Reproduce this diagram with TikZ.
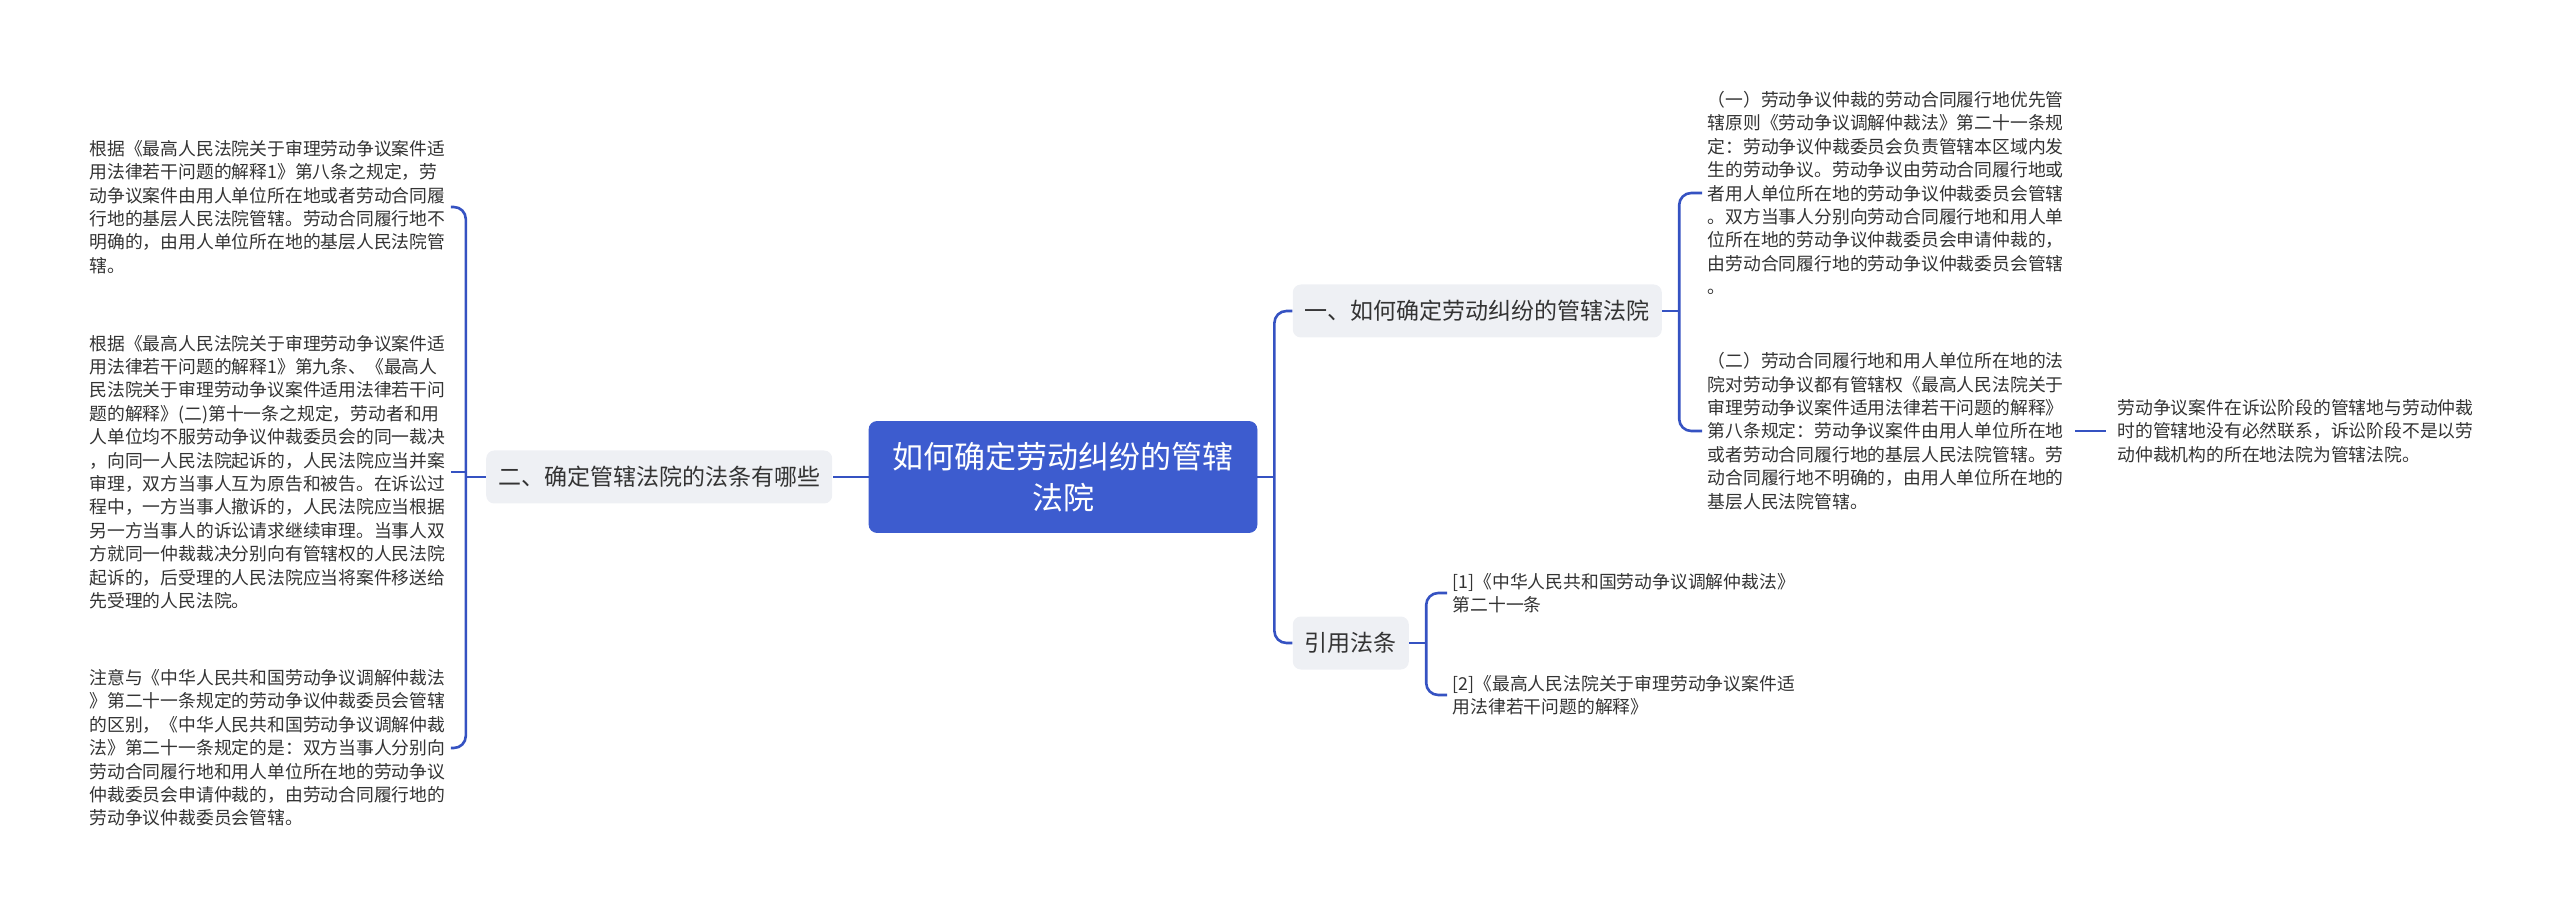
\documentclass[tikz,border=0pt]{standalone}
\usepackage{fontspec}
\setmainfont{Noto Sans CJK SC}
\usetikzlibrary{positioning}
\definecolor{rootblue}{HTML}{3D5CCF}
\definecolor{lineblue}{HTML}{3552C2}
\definecolor{branchgrey}{HTML}{EEF0F4}
\definecolor{textgrey}{HTML}{333333}
\tikzstyle{root} = [
    rectangle,
    rounded corners=4pt,
    minimum width=194pt,
    minimum height=55.5pt,
    fill=rootblue,
    draw=rootblue,
    text=white,
    align=center,
    font=\fontsize{15.5pt}{20.5pt}\selectfont
]
\tikzstyle{branch} = [
    rectangle,
    rounded corners=4pt,
    minimum height=26.5pt,
    inner xsep=6pt,
    fill=branchgrey,
    text=textgrey,
    font=\fontsize{11.5pt}{14pt}\selectfont
]
\tikzstyle{leaf} = [
    align=left,
    inner sep=2.5pt,
    text=textgrey,
    font=\fontsize{8.9pt}{11.7pt}\selectfont
]
\tikzstyle{link} = [draw=lineblue, line width=1.3pt, rounded corners=6pt]
\begin{document}
\begin{tikzpicture}[x=0.5pt, y=-0.5pt]
\useasboundingbox (0,0) rectangle (2560,914);

\node (root) [root] at (1063,477)
{如何确定劳动纠纷的管辖\\法院};

\node (b1) [branch, right=17.5pt of root, yshift=83pt]
{一、如何确定劳动纠纷的管辖法院};

\node (b3) [branch, right=17.5pt of root, yshift=-83pt]
{引用法条};

\node (b2) [branch, left=18pt of root]
{二、确定管辖法院的法条有哪些};

\node (r1) [leaf, right=20pt of b1, yshift=59pt]
{（一）劳动争议仲裁的劳动合同履行地优先管\\
辖原则《劳动争议调解仲裁法》第二十一条规\\
定：劳动争议仲裁委员会负责管辖本区域内发\\
生的劳动争议。劳动争议由劳动合同履行地或\\
者用人单位所在地的劳动争议仲裁委员会管辖\\
。双方当事人分别向劳动合同履行地和用人单\\
位所在地的劳动争议仲裁委员会申请仲裁的，\\
由劳动合同履行地的劳动争议仲裁委员会管辖\\
。};

\node (r2) [leaf, right=20pt of b1, yshift=-60pt]
{（二）劳动合同履行地和用人单位所在地的法\\
院对劳动争议都有管辖权《最高人民法院关于\\
审理劳动争议案件适用法律若干问题的解释》\\
第八条规定：劳动争议案件由用人单位所在地\\
或者劳动合同履行地的基层人民法院管辖。劳\\
动合同履行地不明确的，由用人单位所在地的\\
基层人民法院管辖。};

\node (r3) [leaf, right=21.5pt of r2]
{劳动争议案件在诉讼阶段的管辖地与劳动仲裁\\
时的管辖地没有必然联系，诉讼阶段不是以劳\\
动仲裁机构的所在地法院为管辖法院。};

\node (ref1) [leaf, right=19pt of b3, yshift=25pt]
{[1]《中华人民共和国劳动争议调解仲裁法》\\
第二十一条};

\node (ref2) [leaf, right=19pt of b3, yshift=-26pt]
{[2]《最高人民法院关于审理劳动争议案件适\\
用法律若干问题的解释》};

\node (l1) [leaf, left=17.5pt of b2, yshift=135pt]
{根据《最高人民法院关于审理劳动争议案件适\\
用法律若干问题的解释1》第八条之规定，劳\\
动争议案件由用人单位所在地或者劳动合同履\\
行地的基层人民法院管辖。劳动合同履行地不\\
明确的，由用人单位所在地的基层人民法院管\\
辖。};

\node (l2) [leaf, left=17.5pt of b2, yshift=2.5pt]
{根据《最高人民法院关于审理劳动争议案件适\\
用法律若干问题的解释1》第九条、《最高人\\
民法院关于审理劳动争议案件适用法律若干问\\
题的解释》(二)第十一条之规定，劳动者和用\\
人单位均不服劳动争议仲裁委员会的同一裁决\\
，向同一人民法院起诉的，人民法院应当并案\\
审理，双方当事人互为原告和被告。在诉讼过\\
程中，一方当事人撤诉的，人民法院应当根据\\
另一方当事人的诉讼请求继续审理。当事人双\\
方就同一仲裁裁决分别向有管辖权的人民法院\\
起诉的，后受理的人民法院应当将案件移送给\\
先受理的人民法院。};

\node (l3) [leaf, left=17.5pt of b2, yshift=-135.5pt]
{注意与《中华人民共和国劳动争议调解仲裁法\\
》第二十一条规定的劳动争议仲裁委员会管辖\\
的区别，《中华人民共和国劳动争议调解仲裁\\
法》第二十一条规定的是：双方当事人分别向\\
劳动合同履行地和用人单位所在地的劳动争议\\
仲裁委员会申请仲裁的，由劳动合同履行地的\\
劳动争议仲裁委员会管辖。};

\coordinate (rj) at ([xshift=8.5pt]root.east);
\coordinate (aj) at ([xshift=8.5pt]b1.east);
\coordinate (cj) at ([xshift=8.5pt]b3.east);
\coordinate (lj) at ([xshift=-10pt]b2.west);

\draw [link] (root.east) -- (rj);
\draw [link] (b1.west) -| (rj) |- (b3.west);

\draw [link] (b1.east) -- (aj);
\draw [link] (r1.west) -| (aj) |- (r2.west);
\draw [link, shorten <=3pt, shorten >=3pt] (r2.east) -- (r3.west);

\draw [link] (b3.east) -- (cj);
\draw [link] (ref1.west) -| (cj) |- (ref2.west);

\draw [link] (root.west) -- (b2.east);
\draw [link] (b2.west) -- (lj);
\draw [link] (l1.east) -| (lj) |- (l3.east);
\draw [link] (l2.east) -- (l2.east -| lj);

\end{tikzpicture}
\end{document}
